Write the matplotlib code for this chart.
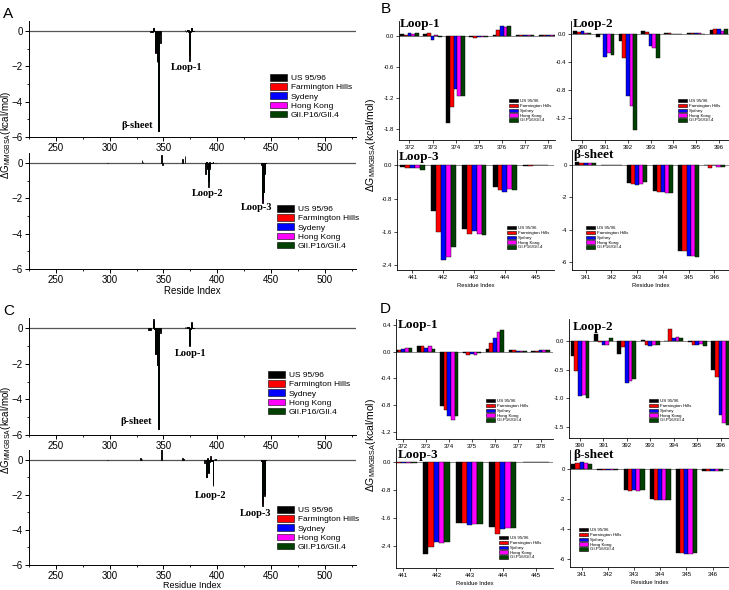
import matplotlib
matplotlib.use('Agg')
import matplotlib.pyplot as plt
import numpy as np
from matplotlib.patches import Patch

plt.rcParams['font.family'] = ['Liberation Sans', 'DejaVu Sans']
plt.rcParams['mathtext.fontset'] = 'custom'
plt.rcParams['mathtext.rm'] = 'Liberation Sans'
plt.rcParams['mathtext.it'] = 'Liberation Sans:italic'

W, H = 729, 590

# series
names_ab = ["US 95/96", "Farmington Hills", "Sydeny", "Hong Kong", "GII.P16/GII.4"]
names_detail = ["US 95/96", "Farmington Hills", "Sydney", "Hong Kong", "GII.P16/GII.4"]
names_c = ["US 95/96", "Farmington Hills", "Sydney", "Hong Kong", "GII.P16/GII.4"]
colors = ["#000000", "#FF0000", "#0000FF", "#FF00FF", "#004000"]

# residue windows
loop1_res = [372, 373, 374, 375, 376, 377, 378]
loop2_res = [390, 391, 392, 393, 394, 395, 396]
loop3_res = [441, 442, 443, 444, 445]
beta_res = [341, 342, 343, 344, 345, 346]

# panel B values, one row per series (US, FH, Sydney, HK, GII.P16)
b_loop1 = [[0.03, 0.03, -1.68, -0.01, 0.01, 0.01, 0.01],
           [0.02, 0.05, -1.38, -0.03, 0.12, 0.01, 0.01],
           [0.05, -0.08, -1.03, -0.02, 0.19, 0.01, 0.01],
           [0.04, 0.01, -1.15, -0.02, 0.18, 0.01, 0.01],
           [0.05, -0.02, -1.16, -0.01, 0.19, 0.01, 0.01]]
b_loop2 = [[0.04, -0.05, -0.10, 0.04, 0.01, 0.01, 0.05],
           [0.02, 0.00, -0.35, 0.02, 0.01, 0.01, 0.06],
           [0.04, -0.33, -0.89, -0.17, 0.00, 0.01, 0.06],
           [0.01, -0.28, -1.03, -0.20, 0.00, 0.01, 0.04],
           [0.01, -0.30, -1.37, -0.35, 0.00, 0.00, 0.06]]
b_loop3 = [[-0.04, -1.09, -1.52, -0.51, -0.01],
           [-0.06, -1.59, -1.64, -0.58, -0.01],
           [-0.06, -2.26, -1.57, -0.63, 0.00],
           [-0.06, -2.19, -1.64, -0.56, 0.00],
           [-0.11, -1.95, -1.66, -0.59, 0.01]]
b_beta = [[0.19, -0.02, -1.14, -1.61, -5.32, 0.00],
          [0.15, -0.02, -1.16, -1.68, -5.34, -0.17],
          [0.13, -0.02, -1.24, -1.70, -5.65, 0.00],
          [0.13, -0.02, -1.20, -1.76, -5.65, -0.12],
          [0.15, -0.02, -1.06, -1.72, -5.67, -0.14]]

# panel D values
d_loop1 = [[0.03, 0.08, -0.81, -0.02, 0.04, 0.02, 0.01],
           [0.03, 0.08, -0.87, -0.05, 0.13, 0.02, 0.01],
           [0.04, 0.06, -0.96, -0.03, 0.21, 0.01, 0.02],
           [0.06, 0.08, -1.03, -0.05, 0.29, 0.01, 0.02],
           [0.05, 0.04, -0.96, -0.02, 0.33, 0.01, 0.02]]
d_loop2 = [[-0.26, 0.12, -0.23, 0.02, 0.00, -0.02, -0.50],
           [-0.53, -0.02, -0.11, -0.06, 0.21, -0.06, -0.63],
           [-0.97, -0.06, -0.73, -0.09, 0.06, -0.07, -1.30],
           [-0.95, -0.06, -0.70, -0.07, 0.07, -0.05, -1.43],
           [-0.99, 0.06, -0.66, -0.07, 0.06, -0.08, -1.48]]
d_loop3 = [[-0.07, -2.64, -1.76, -1.88, -0.01],
           [-0.03, -2.44, -1.74, -2.06, -0.01],
           [-0.03, -2.30, -1.82, -1.92, 0.00],
           [-0.03, -2.33, -1.77, -1.91, 0.00],
           [-0.03, -2.31, -1.79, -1.89, 0.00]]
d_beta = [[0.36, -0.02, -1.38, -1.96, -5.58, -0.10],
          [0.42, -0.02, -1.47, -2.08, -5.60, -0.10],
          [0.49, -0.02, -1.38, -2.05, -5.69, -0.10],
          [0.42, -0.02, -1.43, -2.05, -5.65, -0.10],
          [0.36, -0.02, -1.38, -2.08, -5.62, -0.10]]

# small contributions outside the zoomed windows (overview only)
a_up_extra_res = [338, 339, 340, 347, 370, 371]
a_up_extra_val = [-0.05, -0.08, -0.05, -0.70, 0.05, -0.05]
a_lo_extra_res = [298, 330, 331, 348, 349, 368, 370, 389, 397, 398]
a_lo_extra_val = [0.02, 0.20, 0.08, 0.45, -0.12, 0.25, 0.42, -0.60, 0.03, 0.02]
c_up_extra_res = [336, 337, 338, 347, 370, 371]
c_up_extra_val = [-0.08, -0.10, -0.08, -0.30, 0.04, 0.04]
c_lo_extra_res = [298, 329, 330, 348, 368, 369, 388, 397, 398]
c_lo_extra_val = [0.02, 0.10, 0.08, 0.60, 0.10, 0.08, -0.15, 0.05, 0.03]

SERIF = ['Liberation Serif', 'DejaVu Serif']


def px_axes(fig, left, top, right, bottom):
    return fig.add_axes([left / W, 1 - bottom / H, (right - left) / W, (bottom - top) / H])


def ftext(fig, x, y, s, **kw):
    fig.text(x / W, 1 - y / H, s, **kw)


def legend_at(ax, names, x, y, fs, hl, hh, ls, pad):
    handles = [Patch(facecolor=c, edgecolor='black', linewidth=0.4) for c in colors]
    ax.legend(handles, names, loc='upper left', bbox_to_anchor=(x / W, 1 - y / H),
              bbox_transform=ax.figure.transFigure, frameon=False, fontsize=fs,
              handlelength=hl, handleheight=hh, labelspacing=ls, handletextpad=pad,
              borderpad=0, borderaxespad=0)


def overview(ax, windows, extra_res, extra_val):
    for res, vals in windows:
        for k in range(5):
            ax.bar(res, vals[k], width=0.8, color=colors[k], edgecolor='black', linewidth=0.6)
    ax.bar(extra_res, extra_val, width=0.8, color='black', edgecolor='black', linewidth=0.6)
    ax.axhline(0, color='#555555', lw=0.9, zorder=0)
    ax.set_xlim(226, 529)
    ax.set_ylim(-6, 0.57)
    ax.set_yticks([0, -2, -4, -6])
    ax.set_yticks([-1, -3, -5], minor=True)
    ax.set_xticks([250, 300, 350, 400, 450, 500])
    ax.set_xticks(np.arange(225, 530, 25), minor=True)
    ax.tick_params(labelsize=7, direction='out', length=3, width=0.7, pad=1.5)
    ax.tick_params(which='minor', length=1.5, width=0.6)
    for s in ['top', 'right']:
        ax.spines[s].set_visible(False)
    for s in ['left', 'bottom']:
        ax.spines[s].set_linewidth(0.7)


def detail(ax, res, vals, xlim, ylim, yticks, ylabels, title, title_xy):
    res = np.array(res)
    offs = (np.arange(5) - 2) * 0.16
    for k in range(5):
        ax.bar(res + offs[k], vals[k], width=0.16, color=colors[k],
               edgecolor='black', linewidth=0.3)
    ax.axhline(0, color='#777777', lw=0.6, zorder=0)
    ax.set_xlim(*xlim)
    ax.set_ylim(*ylim)
    ax.set_xticks(res)
    ax.set_yticks(yticks)
    ax.set_yticklabels(ylabels)
    ax.tick_params(labelsize=4.3, direction='out', length=2, width=0.5, pad=1.5)
    for s in ['top', 'right']:
        ax.spines[s].set_visible(False)
    for s in ['left', 'bottom']:
        ax.spines[s].set_linewidth(0.6)
    ax.set_xlabel('Residue Index', fontsize=4.2, labelpad=2)
    ftext(ax.figure, title_xy[0], title_xy[1], title, fontsize=9.5,
          fontweight='bold', family=SERIF, ha='left', va='center')


fig = plt.figure(figsize=(W / 100, H / 100), dpi=100)
lab_kw = dict(fontsize=7.5, fontweight='bold', family=SERIF, ha='center', va='center')

# ---- A ----
ax = px_axes(fig, 29, 21, 356, 137)
overview(ax, [(loop1_res, b_loop1), (beta_res, b_beta)], a_up_extra_res, a_up_extra_val)
legend_at(ax, names_ab, 270, 74, 6, 2.0, 0.85, 0.12, 0.5)
ftext(fig, 137, 126, 'β-sheet', **lab_kw)
ftext(fig, 187, 67, 'Loop-1', **lab_kw)

ax = px_axes(fig, 29, 153, 356, 269)
overview(ax, [(loop2_res, b_loop2), (loop3_res, b_loop3)], a_lo_extra_res, a_lo_extra_val)
legend_at(ax, names_ab, 277, 205, 6, 2.0, 0.85, 0.12, 0.5)
ftext(fig, 208, 193, 'Loop-2', **lab_kw)
ftext(fig, 257, 208, 'Loop-3', **lab_kw)
ftext(fig, 192, 291, 'Reside Index', fontsize=7, ha='center', va='center')

# ---- C ----
ax = px_axes(fig, 29, 318, 356, 435)
overview(ax, [(loop1_res, d_loop1), (beta_res, d_beta)], c_up_extra_res, c_up_extra_val)
legend_at(ax, names_c, 268, 371, 6, 2.0, 0.85, 0.12, 0.5)
ftext(fig, 136, 421, 'β-sheet', **lab_kw)
ftext(fig, 191, 353, 'Loop-1', **lab_kw)

ax = px_axes(fig, 29, 450, 356, 565)
overview(ax, [(loop2_res, d_loop2), (loop3_res, d_loop3)], c_lo_extra_res, c_lo_extra_val)
legend_at(ax, names_c, 277, 506, 6, 2.0, 0.85, 0.12, 0.5)
ftext(fig, 211, 496, 'Loop-2', **lab_kw)
ftext(fig, 256, 513, 'Loop-3', **lab_kw)
ftext(fig, 192, 585, 'Residue Index', fontsize=6.5, ha='center', va='center')

# ---- B ----
ax = px_axes(fig, 399, 21, 555, 140)
detail(ax, loop1_res, b_loop1, (371.55, 378.3), (-2.01, 0.29), [0, -0.6, -1.2, -1.8],
       ['0.0', '-0.6', '-1.2', '-1.8'], 'Loop-1', (400, 24))
legend_at(ax, names_detail, 509, 99, 3.2, 2.0, 0.8, 0.12, 0.4)

ax = px_axes(fig, 571, 21, 729, 140)
detail(ax, loop2_res, b_loop2, (389.5, 396.45), (-1.51, 0.18), [0, -0.4, -0.8, -1.2],
       ['0.0', '-0.4', '-0.8', '-1.2'], 'Loop-2', (573, 24))
legend_at(ax, names_detail, 678, 99, 3.2, 2.0, 0.8, 0.12, 0.4)

ax = px_axes(fig, 397, 150, 554, 270)
detail(ax, loop3_res, b_loop3, (440.5, 445.59), (-2.51, 0.37), [0, -0.8, -1.6, -2.4],
       ['0.0', '-0.8', '-1.6', '-2.4'], 'Loop-3', (399, 157))
legend_at(ax, names_detail, 507, 226, 3.2, 2.0, 0.8, 0.12, 0.4)

ax = px_axes(fig, 572, 150, 729, 270)
detail(ax, beta_res, b_beta, (340.47, 346.57), (-6.5, 0.93), [0, -2, -4, -6],
       ['0', '-2', '-4', '-6'], 'β-sheet', (573, 155))
legend_at(ax, names_detail, 586, 226, 3.2, 2.0, 0.8, 0.12, 0.4)

# ---- D ----
ax = px_axes(fig, 396, 319, 553, 439)
detail(ax, loop1_res, d_loop1, (371.68, 378.54), (-1.31, 0.49), [0.4, 0, -0.4, -0.8, -1.2],
       ['0.4', '0.0', '-0.4', '-0.8', '-1.2'], 'Loop-1', (398, 325))
legend_at(ax, names_detail, 486, 399, 3.2, 2.0, 0.8, 0.12, 0.4)

ax = px_axes(fig, 569, 319, 729, 438)
detail(ax, loop2_res, d_loop2, (389.53, 396.36), (-1.70, 0.39), [0, -0.5, -1.0, -1.5],
       ['0.0', '-0.5', '-1.0', '-1.5'], 'Loop-2', (573, 327))
legend_at(ax, names_detail, 649, 399, 3.2, 2.0, 0.8, 0.12, 0.4)

ax = px_axes(fig, 396, 448, 553, 568)
detail(ax, loop3_res, d_loop3, (440.78, 445.52), (-3.04, 0.39), [0, -0.8, -1.6, -2.4],
       ['0.0', '-0.8', '-1.6', '-2.4'], 'Loop-3', (398, 455))
legend_at(ax, names_detail, 499, 536, 3.2, 2.0, 0.8, 0.12, 0.4)

ax = px_axes(fig, 570, 450, 729, 567)
detail(ax, beta_res, d_beta, (340.55, 346.63), (-6.53, 1.29), [0, -2, -4, -6],
       ['0', '-2', '-4', '-6'], 'β-sheet', (573, 455))
legend_at(ax, names_detail, 579, 528, 3.2, 2.0, 0.8, 0.12, 0.4)

# shared y labels
ylab = 'ΔG$_{\\mathrm{MMGBSA}}$(kcal/mol)'
for x, y, fs in [(6, 135, 7), (6, 430, 7), (371, 145, 7.5), (371, 445, 7.5)]:
    ftext(fig, x, y, ylab, rotation=90, fontsize=fs, ha='center', va='center')

# panel letters
for lab, x, y in [('A', 3, 18), ('B', 381, 13), ('C', 3, 315), ('D', 380, 313)]:
    ftext(fig, x, y, lab, fontsize=11, ha='left', va='baseline')

fig.savefig('out.png', dpi=100)
